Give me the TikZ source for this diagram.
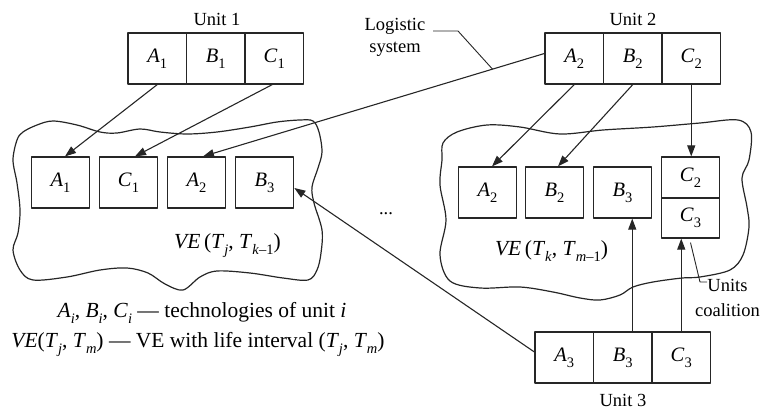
\documentclass[tikz,border=0pt]{standalone}
\usepackage{fontspec}
\setmainfont{Liberation Serif}
\usetikzlibrary{arrows.meta,calc}
\newcommand{\lo}[1]{\raisebox{-0.28em}{\fontsize{14.5}{14.5}\selectfont #1}}
\begin{document}
\begin{tikzpicture}[x=1pt,y=-1pt,line join=round,
  cell/.style={draw=black!85,line width=1.2pt,minimum width=58.5pt,minimum height=51pt,inner sep=0pt,font=\fontsize{20.5}{24}\selectfont},
  lbl/.style={font=\fontsize{18.5}{22}\selectfont,inner sep=0pt},
  big/.style={font=\fontsize{21.5}{25}\selectfont,inner sep=0pt,anchor=base},
  arr/.style={draw=black!85,line width=1.1pt,-{Triangle[length=11pt,width=8pt]}},
  lead/.style={draw=black!85,line width=0.9pt},
  cloudline/.style={draw=black!85,line width=1.2pt}]
\useasboundingbox (0,0) rectangle (763,412);
% clouds
\draw[cloudline] plot[smooth cycle,tension=0.55] coordinates {
 (23,132) (37,125) (53,121) (77,125) (100,132) (117,133) (140,129) (160,132) (187,134) (217,132) (250,127) (277,122) (300,120) (313,121)
 (319,132) (322,152) (318,168) (312,187) (314,203) (322,230) (321,253) (317,270) (308,280)
 (283,278) (250,273) (217,271) (200,277) (183,290) (165,284) (148,273) (127,268) (100,270) (67,277) (33,280) (20,270)
 (13,250) (18,233) (20,210) (17,183) (13,160) (17,140)};
\draw[cloudline] plot[smooth cycle,tension=0.55] coordinates {
 (443,143) (457,132) (487,125) (520,127) (560,134) (603,130) (653,127) (700,123) (738,120)
 (751,132) (749,160) (742,178) (747,207) (749,227) (743,255) (730,270) (700,277) (682,278) (653,282) (633,287)
 (620,295) (600,300) (580,298) (553,292) (520,287) (480,288) (450,281)
 (440,255) (446,220) (440,185) (442,160)};
% unit boxes
\node[lbl] (unit1) at (217,19) {Unit 1};
\node[cell] (u1a) at (157.25,58.5) {\textit{A}\lo{1}};
\node[cell] (u1b) at (215.75,58.5) {\textit{B}\lo{1}};
\node[cell] (u1c) at (274.25,58.5) {\textit{C}\lo{1}};
\node[lbl] (unit2) at (633,19) {Unit 2};
\node[cell] (u2a) at (574.25,58.5) {\textit{A}\lo{2}};
\node[cell] (u2b) at (632.75,58.5) {\textit{B}\lo{2}};
\node[cell] (u2c) at (691.25,58.5) {\textit{C}\lo{2}};
\node[cell] (u3a) at (564.25,357.5) {\textit{A}\lo{3}};
\node[cell] (u3b) at (622.75,357.5) {\textit{B}\lo{3}};
\node[cell] (u3c) at (681.25,357.5) {\textit{C}\lo{3}};
\node[lbl] (unit3) at (623,400) {Unit 3};
% left VE
\node[cell] (la1) at (60.5,182.5) {\textit{A}\lo{1}};
\node[cell] (lc1) at (128.5,182.5) {\textit{C}\lo{1}};
\node[cell] (la2) at (196.5,182.5) {\textit{A}\lo{2}};
\node[cell] (lb3) at (264.5,182.5) {\textit{B}\lo{3}};
\node[big] (vel) at (227.5,248) {\textit{VE}\,(\textit{T}\lo{\textit{j}}, \textit{T}\lo{\textit{k}–1})};
% right VE
\node[cell] (ra2) at (487.5,192.5) {\textit{A}\lo{2}};
\node[cell] (rb2) at (554.5,192.5) {\textit{B}\lo{2}};
\node[cell] (rb3) at (622.5,192.5) {\textit{B}\lo{3}};
\node[cell,minimum height=41pt] (rc2) at (690.5,177.5) {\textit{C}\lo{2}};
\node[cell,minimum height=40pt] (rc3) at (690.5,218) {\textit{C}\lo{3}};
\node[big] (ver) at (551.5,255) {\textit{VE}\,(\textit{T}\lo{\textit{k}}, \textit{T}\lo{\textit{m}–1})};
\node[lbl] (dots) at (386,214) {...};
% arrows
\draw[arr] (u1a.south) -- ([xshift=4.5pt]la1.north);
\draw[arr] ([xshift=-2pt]u1c.south) -- ([xshift=6.5pt]lc1.north);
\draw[arr] ([yshift=5pt]u2a.west) -- coordinate[pos=0.152] (lsp) ([xshift=6.5pt]la2.north);
\draw[arr] (u2a.south) -- ([xshift=4.5pt]ra2.north);
\draw[arr] (u2b.south) -- ([xshift=3.5pt]rb2.north);
\draw[arr] (u2c.south) -- (u2c.south |- rc2.north);
\draw[arr] ([xshift=9.5pt]u3b.north) -- ([xshift=9.5pt]u3b.north |- rb3.south);
\draw[arr] (u3c.north) -- (u3c.north |- rc3.south);
\draw[arr] ([yshift=5.5pt]u3a.west) -- ([yshift=-5.5pt]lb3.east);
% logistic system
\node[lbl,align=center] (logi) at (395,37) {Logistic\\system};
\coordinate (lst) at (433,31);
\coordinate (lsk) at (458,31);
\draw[lead] (lst) -- (lsk) -- (lsp);
% units coalition
\node[lbl,align=center,font=\fontsize{18.5}{25}\selectfont] (uc) at (727.5,298) {Units\\coalition};
\coordinate (ucb) at (700,282);
\coordinate (uce) at (707,282);
\draw[lead] ([yshift=-4pt]rc3.south) -- (ucb) -- (uce);
% legend
\node[big] (leg1) at (202,317) {\textit{A}\lo{\textit{i}}, \textit{B}\lo{\textit{i}}, \textit{C}\lo{\textit{i}} — technologies of unit \textit{i}};
\node[big] (leg2) at (198,347) {\textit{VE}(\textit{T}\lo{\textit{j}}, \textit{T}\lo{\textit{m}}) — VE with life interval (\textit{T}\lo{\textit{j}}, \textit{T}\lo{\textit{m}})};
\end{tikzpicture}
\end{document}
